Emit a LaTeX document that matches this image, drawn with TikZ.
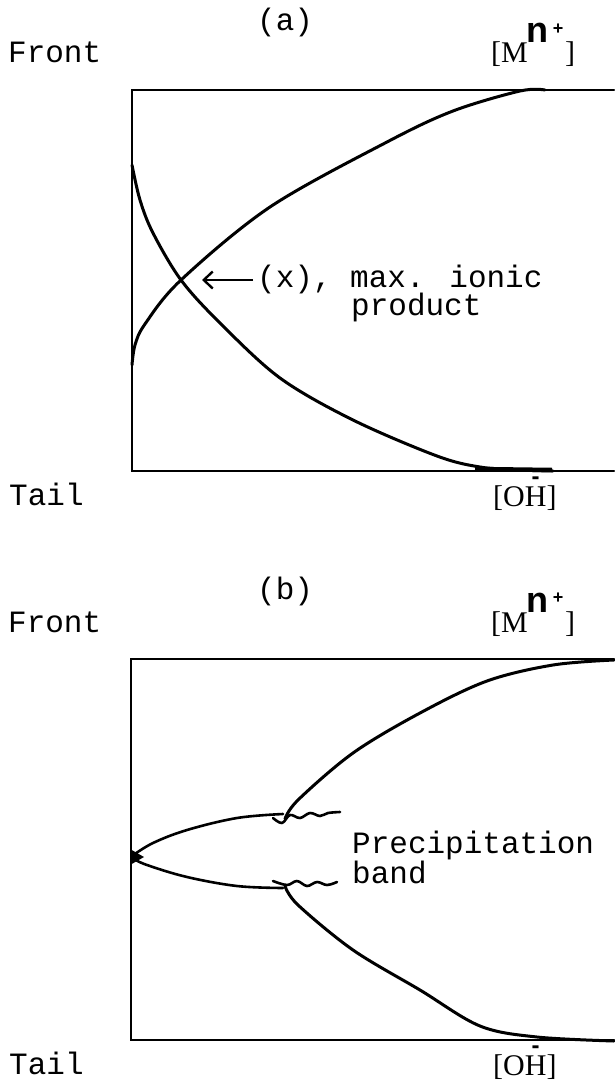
\documentclass[tikz,border=0pt]{standalone}
\usepackage{fontspec}
\usetikzlibrary{arrows.meta}
\newfontfamily\monof{Liberation Mono}
\newfontfamily\seriff{Liberation Serif}
\newfontfamily\sansf{Liberation Sans}
\newcommand\ohminus{[O\makebox[0pt][l]{\makebox[21.7pt]{\raisebox{22pt}{\sansf\bfseries\fontsize{24}{24}\selectfont -}}}H]}
\tikzset{
  lbl/.style={inner sep=0pt, anchor=base west, font=\monof\fontsize{31}{31}\selectfont},
  brk/.style={inner sep=0pt, anchor=base west, font=\seriff\fontsize{30}{30}\selectfont},
  supn/.style={inner sep=0pt, anchor=base west, font=\sansf\bfseries\fontsize{36}{36}\selectfont},
  supp/.style={inner sep=0pt, anchor=center, font=\sansf\bfseries\fontsize{18}{18}\selectfont},
  axis/.style={line width=2.4pt, line cap=round},
  curve/.style={line width=3pt, line cap=round, line join=round},
  thin curve/.style={line width=2.6pt, line cap=round, line join=round},
  arr/.style={line width=2.4pt, -{Straight Barb[length=9pt,width=17pt,line width=2.4pt]}}
}
\begin{document}
\begin{tikzpicture}[x=1pt,y=-1pt]
\useasboundingbox (0,0) rectangle (614,1081);
% ---------------- panel (a) ----------------
\node[lbl] (ta) at (257,31) {(a)};
\node[lbl] (fronta) at (8,63) {Front};
\node[lbl] (taila) at (9,505) {Tail};
\node[brk] (mla) at (491,63) {[M};
\node[supn] (na) at (526,43) {n};
\node[supp] (pa) at (558,29) {+};
\node[brk] (rba) at (565,63) {]};
\node[brk] (oha) at (493,506) {\ohminus};
% box
\draw[axis] (614,90) -- (132,90) -- (132,471) -- (614,471);
% rising curve
\draw[curve] plot[smooth, tension=0.55] coordinates {(132,365) (135,345) (145,324) (181,280) (270,207) (387,142) (453,111) (520,91) (545,90)};
% falling curve
\draw[curve] plot[smooth, tension=0.55] coordinates {(132,165) (140,200) (153,233) (181,280) (220,323) (280,378) (353,420) (437,456) (480,467) (520,470) (553,471)};
\draw[line width=4.5pt] (475,469) -- (552,470);
% annotation
\coordinate (xtail) at (253,280);
\coordinate (xtip) at (202,280);
\draw[arr] (xtail) -- (xtip);
\node[lbl] (xl1) at (257,287) {(x), max. ionic};
\node[lbl] (xl2) at (351,315) {product};
% ---------------- panel (b) ----------------
\node[lbl] (tb) at (257,599) {(b)};
\node[lbl] (frontb) at (8,632) {Front};
\node[lbl] (tailb) at (9,1074) {Tail};
\node[brk] (mlb) at (491,632) {[M};
\node[supn] (nb) at (526,612) {n};
\node[supp] (pb) at (558,598) {+};
\node[brk] (rbb) at (565,632) {]};
\node[brk] (ohb) at (493,1075) {\ohminus};
% box
\draw[axis] (614,659) -- (131,659) -- (131,1040) -- (614,1040);
% left blob
\fill (130,849) -- (144,857) -- (130,865) -- cycle;
% upper left curve
\draw[thin curve] plot[smooth, tension=0.6] coordinates {(132,856) (153,843) (187,830) (237,818) (283,814)};
% lower left curve
\draw[thin curve] plot[smooth, tension=0.6] coordinates {(132,858) (147,865) (187,877) (237,886) (283,888)};
% upper right curve
\draw[curve] plot[smooth, tension=0.55] coordinates {(285,819) (298,800) (353,753) (420,713) (487,681) (553,665) (614,660)};
% lower right curve
\draw[curve] plot[smooth, tension=0.55] coordinates {(285,886) (298,905) (353,950) (420,990) (480,1026) (537,1037) (614,1041)};
% squiggles
\draw[thin curve] plot[smooth, tension=0.6] coordinates {(273,818) (282,823) (290,815) (300,818) (310,813) (320,816) (328,813) (340,812)};
\draw[thin curve] plot[smooth, tension=0.6] coordinates {(273,881) (287,885) (297,881) (307,886) (317,882) (327,885) (337,882)};
\node[lbl] (pr1) at (352,853) {Precipitation};
\node[lbl] (pr2) at (352,883) {band};
\end{tikzpicture}
\end{document}
